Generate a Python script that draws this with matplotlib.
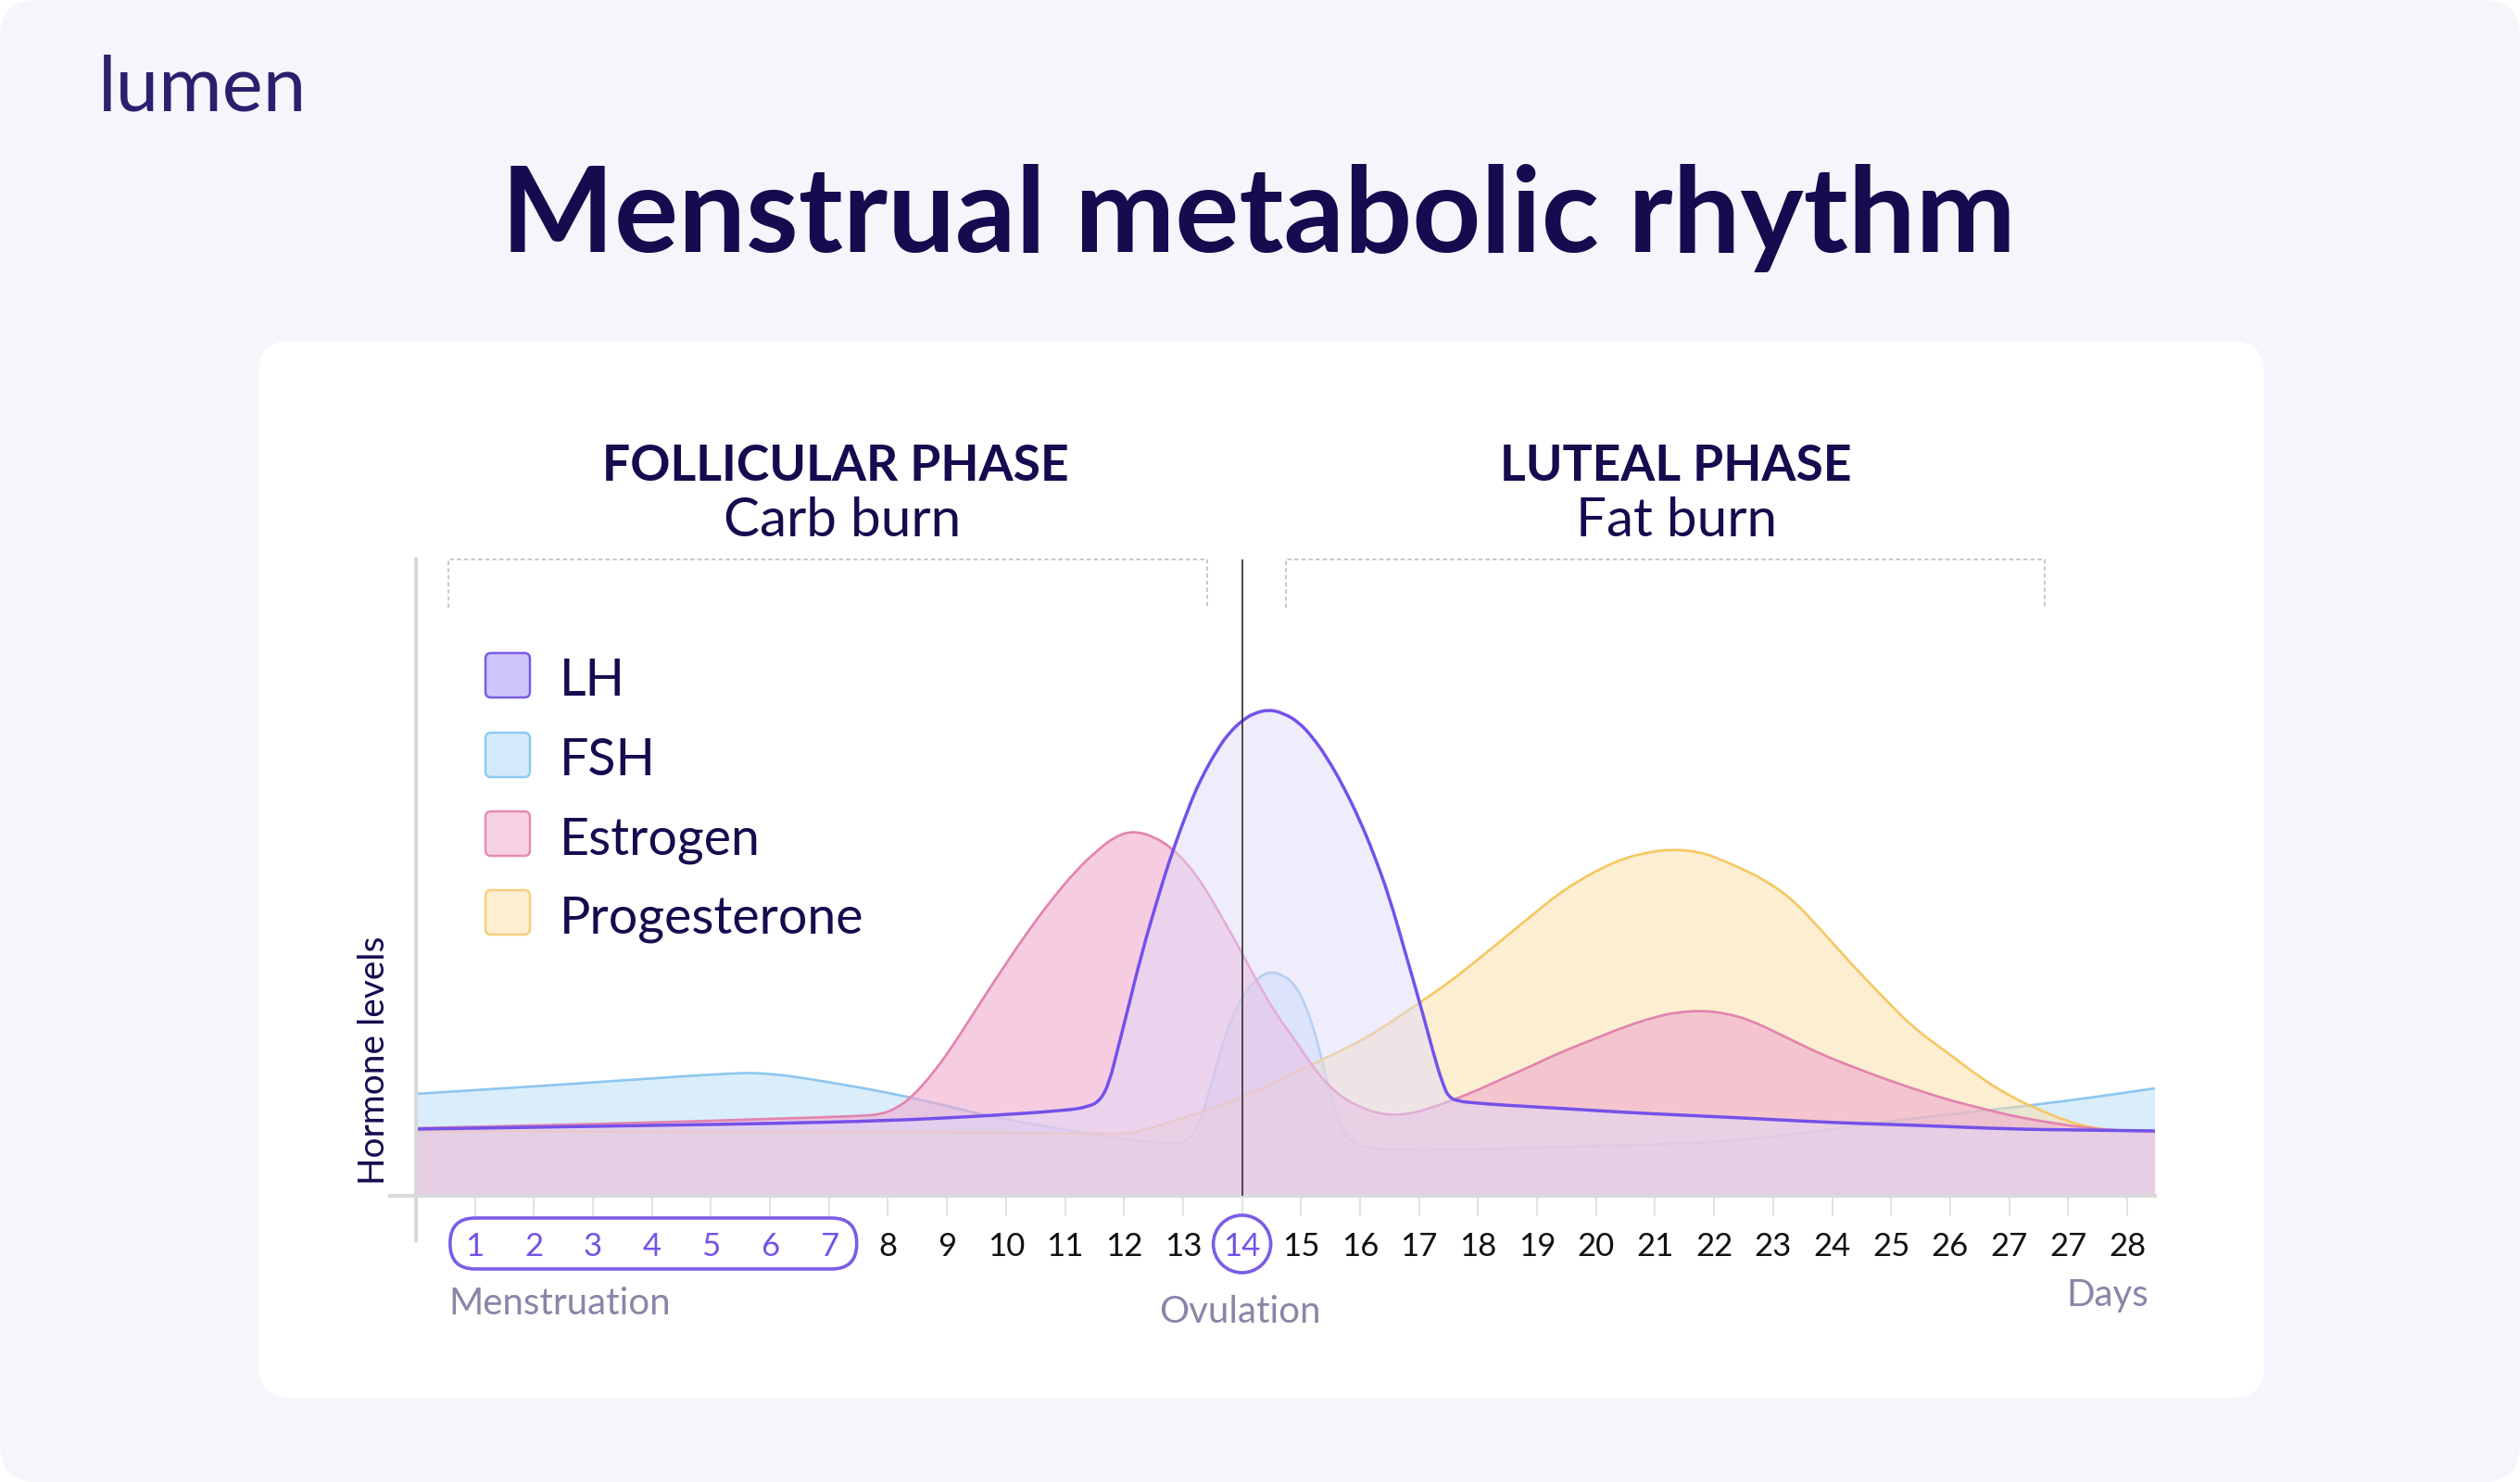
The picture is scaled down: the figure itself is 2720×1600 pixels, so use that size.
import matplotlib.pyplot as plt
from matplotlib.patches import FancyBboxPatch, Ellipse, PathPatch
from matplotlib.path import Path
from matplotlib.transforms import IdentityTransform

plt.rcParams['font.family'] = ['Lato', 'DejaVu Sans']

W, H = 2720, 1600

# ---- data (x = day slot, 1..29; level in arbitrary units, axis top = 687)
day_pos = list(range(1, 30))
day_labels = [str(d) for d in range(1, 27)] + ['27', '27', '28']
menstruation_days = day_labels[:7]
ovulation_day = 14

lh_x = [0.0, 2.0, 4.0, 6.0, 8.0, 9.6, 11.0, 11.4, 11.6, 11.75, 11.9, 12.06, 12.3, 12.58, 12.8,
        13.1, 13.3, 13.6, 13.8, 14.0, 14.2, 14.46, 14.7, 14.95, 15.2, 15.45, 15.72, 16.0, 16.24,
        16.5, 16.77, 17.05, 17.29, 17.42, 17.5, 17.65, 18.0, 18.4, 19.5, 20.5, 21.5, 22.8, 24.0,
        25.5, 27.0, 28.2, 29.47]
lh_y = [72, 74, 76, 78, 81, 86, 92, 96, 103, 122, 160, 200, 262, 323, 368,
        420, 450, 484, 501, 513, 521, 525, 521, 512, 495, 472, 442, 405, 368,
        322, 262, 200, 143, 118, 107, 102, 100, 98, 94, 90, 87, 83, 79,
        76, 72, 71, 70]

fsh_x = [0.0, 2.5, 5.4, 6.0, 6.6, 7.7, 8.4, 9.0, 9.64, 10.4, 11.2, 11.8, 12.3, 12.9, 13.1,
         13.3, 13.5, 13.7, 13.9, 14.1, 14.3, 14.5, 14.7, 14.9, 15.1, 15.3, 15.5, 15.7, 15.9,
         16.2, 16.8, 18.0, 19.4, 21.5, 22.8, 24.0, 24.9, 26.0, 27.3, 28.5, 29.47]
fsh_y = [110, 120, 133, 132, 127, 115, 106, 97, 87, 78, 69, 63, 59, 56, 60,
         80, 125, 170, 203, 224, 237, 242, 238, 228, 203, 162, 108, 70, 56,
         51, 49, 50, 53, 56, 62, 72, 80, 88, 97, 107, 116]

estrogen_x = [0.0, 2.0, 4.0, 6.0, 7.5, 7.9, 8.15, 8.4, 8.8, 9.13, 9.5, 9.96, 10.4, 10.8, 11.2,
              11.53, 11.85, 12.16, 12.5, 12.8, 13.05, 13.3, 13.65, 14.0, 14.3, 14.6, 14.9, 15.2,
              15.45, 15.72, 16.0, 16.24, 16.56, 16.9, 17.3, 17.85, 18.4, 18.9, 19.4, 20.0, 20.5,
              21.0, 21.35, 21.8, 22.2, 22.6, 23.1, 23.8, 24.4, 24.9, 25.5, 26.0, 26.5, 27.0, 27.5,
              28.0, 28.5, 29.0, 29.47]
estrogen_y = [73, 76, 79, 83, 86, 88, 95, 106, 135, 165, 202, 247, 288, 322, 352,
              372, 388, 394, 388, 376, 360, 340, 302, 262, 226, 194, 168, 139,
              120, 105, 96, 90, 87, 89, 97, 110, 126, 140, 155, 170, 183,
              193, 198, 200, 197, 190, 175, 153, 138, 126, 113, 103, 95, 87, 81,
              76, 72, 70, 69]

prog_x = [0.0, 4.0, 8.0, 10.0, 11.5, 12.06, 12.4, 12.8, 13.4, 14.0, 14.7, 15.25, 15.8, 16.3,
          17.0, 17.5, 17.9, 18.4, 18.9, 19.3, 19.7, 20.1, 20.5, 20.9, 21.26, 21.7, 22.05, 22.5,
          22.8, 23.3, 23.8, 24.3, 24.9, 25.4, 25.97, 26.5, 27.0, 27.5, 28.0, 28.5, 29.0, 29.47]
prog_y = [70, 69, 69, 68, 67, 67, 72, 80, 92, 106, 127, 144, 160, 178,
          208, 230, 250, 276, 302, 323, 340, 354, 365, 371, 374, 372, 365, 352,
          343, 322, 288, 252, 212, 180, 154, 128, 108, 93, 80, 72, 70, 69]

# drawing order: bottom to top
series = [
    ('FSH', fsh_x, fsh_y, '#9fd0f7', 0.38, '#8cc6f0'),
    ('Progesterone', prog_x, prog_y, '#fbdfa5', 0.5, '#f6c760'),
    ('Estrogen', estrogen_x, estrogen_y, '#f0aacd', 0.6, '#e283ae'),
    ('LH', lh_x, lh_y, '#e1dbfb', 0.5, '#7451ea'),
]
legend_names = ['LH', 'FSH', 'Estrogen', 'Progesterone']
legend_faces = ['#d0c5fb', '#d3eafd', '#f8d2e4', '#fdeed1']
legend_edges = ['#7b5ce6', '#8ecbf0', '#e38db5', '#f4d07e']

NAVY = '#150b4f'
PURPLE = '#7452e8'
MUTED = '#8a86a8'


def curve_path(xs, ys, close=False):
    # quadratic bezier through the read points (points act as control points)
    verts = [(xs[0], ys[0])]
    codes = [Path.MOVETO]
    for i in range(1, len(xs) - 1):
        verts += [(xs[i], ys[i]), ((xs[i] + xs[i + 1]) / 2, (ys[i] + ys[i + 1]) / 2)]
        codes += [Path.CURVE3, Path.CURVE3]
    verts.append((xs[-1], ys[-1]))
    codes.append(Path.LINETO)
    if close:
        verts += [(xs[-1], 0), (xs[0], 0), (xs[0], ys[0])]
        codes += [Path.LINETO, Path.LINETO, Path.CLOSEPOLY]
    return Path(verts, codes)


fig = plt.figure(figsize=(W / 100, H / 100), dpi=100, facecolor='white')


def px(x, y):
    # top-left pixel coords -> figure fraction
    return x / W, 1 - y / H


fig.add_artist(FancyBboxPatch((0, 0), W, H, boxstyle='round,pad=0,rounding_size=40',
                              transform=IdentityTransform(), fc='#f7f5fc', ec='none', zorder=-10))
fig.add_artist(FancyBboxPatch((279, H - 1509), 2165, 1141, boxstyle='round,pad=0,rounding_size=35',
                              transform=IdentityTransform(), fc='white', ec='none', zorder=-9))

fig.text(*px(106, 120), 'lumen', fontsize=60, color='#2d1f6e', va='baseline')
fig.text(*px(1358, 272), 'Menstrual metabolic rhythm', fontsize=93, fontweight='bold',
         color=NAVY, ha='center', va='baseline')

fig.text(*px(902, 519), 'FOLLICULAR PHASE', fontsize=38.5, fontweight='bold', color=NAVY,
         ha='center', va='baseline')
fig.text(*px(909, 579), 'Carb burn', fontsize=42, color=NAVY, ha='center', va='baseline')
fig.text(*px(1809, 519), 'LUTEAL PHASE', fontsize=38.5, fontweight='bold', color=NAVY,
         ha='center', va='baseline')
fig.text(*px(1810, 579), 'Fat burn', fontsize=42, color=NAVY, ha='center', va='baseline')

ax = fig.add_axes([448.9 / W, 1 - 1291 / H, 1877 / W, 687 / H])
ax.set_xlim(0, 29.47)
ax.set_ylim(0, 687)
ax.set_facecolor('none')
for s in ax.spines.values():
    s.set_visible(False)

for name, xs, ys, fc, a, lc in series:
    ax.add_patch(PathPatch(curve_path(xs, ys, close=True), fc=fc, alpha=a, lw=0))
    ax.add_patch(PathPatch(curve_path(xs, ys), fill=False, ec=lc,
                           lw=2.5 if name == 'LH' else 1.9, capstyle='round', joinstyle='round'))

ax.axvline(ovulation_day, color='#3a3a3a', lw=1.3, zorder=6)

# axis lines
ax.plot([0, 0], [-48 / 687, 1], transform=ax.transAxes, color='#d8d8d8', lw=3, clip_on=False)
ax.plot([-28 / 1877, 1], [0, 0], transform=ax.transAxes, color='#dadada', lw=3, clip_on=False)

# phase brackets
for x0, x1 in [(0.55, 13.41), (14.74, 27.6)]:
    ax.plot([x0, x0, x1, x1], [635, 687, 687, 635], color='#b8b8b8', lw=1.1,
            ls=(0, (3, 2)), clip_on=False)

ax.set_yticks([])
ax.set_xticks(day_pos, day_labels)
ax.tick_params(axis='x', length=16, width=1.4, color='#e2e2e2', pad=12,
               labelsize=25, labelcolor='#111111')
for i, lab in enumerate(ax.get_xticklabels()):
    if i < len(menstruation_days) or day_pos[i] == ovulation_day:
        lab.set_color(PURPLE)

# outline around menstruation days and ovulation day
xa = ax.transData.transform((0.58, 0))[0]
xb = ax.transData.transform((7.47, 0))[0]
fig.add_artist(FancyBboxPatch((xa, H - 1370), xb - xa, 55, boxstyle='round,pad=0,rounding_size=27',
                              transform=IdentityTransform(), fc='none', ec='#7b5ce6', lw=2.6))
xc = ax.transData.transform((ovulation_day, 0))[0]
fig.add_artist(Ellipse((xc, H - 1343), 62, 62, transform=IdentityTransform(),
                       fc='none', ec='#7b5ce6', lw=2.6))

fig.text(*px(484, 1419), 'Menstruation', fontsize=29, color=MUTED, va='baseline')
fig.text(*px(1338, 1428), 'Ovulation', fontsize=29, color=MUTED, ha='center', va='baseline')
fig.text(*px(2319, 1410), 'Days', fontsize=29, color=MUTED, ha='right', va='baseline')
fig.text(*px(404, 1145), 'Hormone levels', fontsize=28, color=NAVY, rotation=90,
         ha='center', va='center')

# legend
rows_y = [729, 815, 900, 985]
for name, fc, ec, yc in zip(legend_names, legend_faces, legend_edges, rows_y):
    fig.add_artist(FancyBboxPatch((524, H - yc - 24), 48, 48, boxstyle='round,pad=0,rounding_size=6',
                                  transform=IdentityTransform(), fc=fc, ec=ec, lw=1.8))
    fig.text(*px(604, yc + 22), name, fontsize=40, color=NAVY, va='baseline')

fig.savefig('out.png', dpi=100, facecolor='white')
